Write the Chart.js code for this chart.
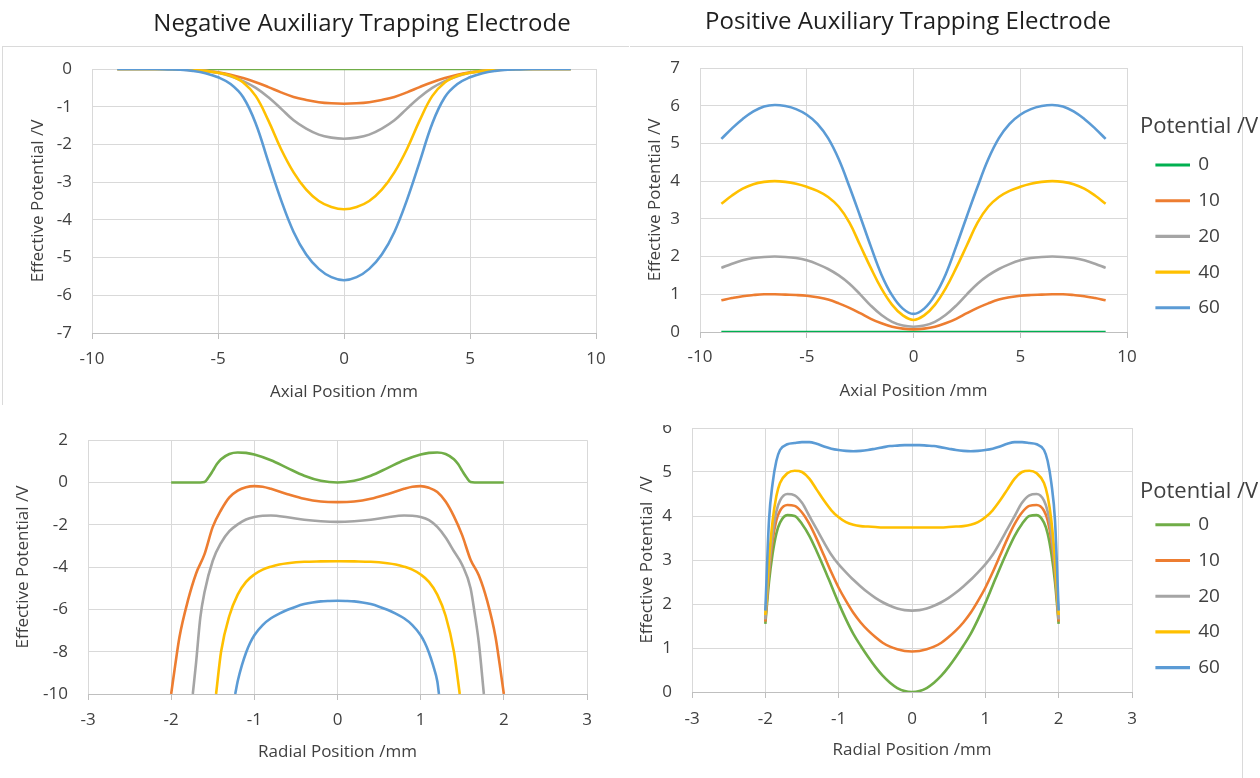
<!DOCTYPE html>
<html>
<head>
<meta charset="utf-8">
<script src="https://cdn.jsdelivr.net/npm/chart.js@4.4.1/dist/chart.umd.min.js"></script>
<style>
  body { margin: 0; background: #fff; }
  #page { position: relative; width: 1260px; height: 778px; overflow: hidden; background: #fff; }
  .box { position: absolute; }
  .frame { position: absolute; border: 0 solid #dadada; box-sizing: border-box; }
</style>
</head>
<body>
<div id="page">
  <div class="frame" style="left:2px;top:46px;width:627px;height:359px;border-top-width:1px;border-left-width:1px"></div>
  <div class="frame" style="left:630px;top:46px;width:613px;height:732px;border-top-width:1px;border-right-width:1px"></div>
  <div class="box" style="left:0;top:0;width:724px;height:410px"><canvas id="negAxial"></canvas></div>
  <div class="box" style="left:556px;top:0;width:704px;height:410px"><canvas id="posAxial"></canvas></div>
  <div class="box" style="left:0;top:410px;width:630px;height:368px"><canvas id="negRadial"></canvas></div>
  <div class="box" style="left:630px;top:425px;width:630px;height:353px"><canvas id="posRadial"></canvas></div>
</div>
<script>
// series labels (trap potential, V)
const seriesNames = ['0', '10', '20', '40', '60'];

// axial position, mm
const axialX = [-9, -8.5, -8, -7.5, -7, -6.5, -6, -5.5, -5, -4.5, -4, -3.5, -3, -2.5, -2, -1.5, -1, -0.5, 0,
  0.5, 1, 1.5, 2, 2.5, 3, 3.5, 4, 4.5, 5, 5.5, 6, 6.5, 7, 7.5, 8, 8.5, 9];

// negative electrode, axial
const negAx0 = [0, 0, 0, 0, 0, 0, 0, 0, 0, 0, 0, 0, 0, 0, 0, 0, 0, 0, 0,
  0, 0, 0, 0, 0, 0, 0, 0, 0, 0, 0, 0, 0, 0, 0, 0, 0, 0];
const negAx10 = [0, 0, 0, 0, 0, -0.01, -0.03, -0.05, -0.09, -0.15, -0.24, -0.35, -0.48, -0.62, -0.74, -0.82, -0.88, -0.91, -0.92,
  -0.91, -0.88, -0.82, -0.74, -0.62, -0.48, -0.35, -0.24, -0.15, -0.09, -0.05, -0.03, -0.01, 0, 0, 0, 0, 0];
const negAx20 = [0, 0, 0, 0, 0, -0.01, -0.02, -0.05, -0.1, -0.19, -0.32, -0.5, -0.75, -1.05, -1.36, -1.58, -1.74, -1.82, -1.85,
  -1.82, -1.74, -1.58, -1.36, -1.05, -0.75, -0.5, -0.32, -0.19, -0.1, -0.05, -0.02, -0.01, 0, 0, 0, 0, 0];
const negAx40 = [0, 0, 0, 0, 0, -0.01, -0.02, -0.05, -0.1, -0.18, -0.36, -0.72, -1.37, -2.12, -2.74, -3.2, -3.5, -3.66, -3.72,
  -3.66, -3.5, -3.2, -2.74, -2.12, -1.37, -0.72, -0.36, -0.18, -0.1, -0.05, -0.02, -0.01, 0, 0, 0, 0, 0];
const negAx60 = [0, 0, 0, 0, -0.01, -0.02, -0.05, -0.11, -0.22, -0.4, -0.75, -1.45, -2.47, -3.47, -4.32, -4.92, -5.3, -5.52, -5.6,
  -5.52, -5.3, -4.92, -4.32, -3.47, -2.47, -1.45, -0.75, -0.4, -0.22, -0.11, -0.05, -0.02, -0.01, 0, 0, 0, 0];

// positive electrode, axial
const posAx0 = negAx0;
const posAx10 = [0.84, 0.9, 0.95, 0.98, 1.0, 1.0, 0.99, 0.98, 0.96, 0.92, 0.86, 0.76, 0.64, 0.5, 0.35, 0.23, 0.14, 0.09, 0.07,
  0.09, 0.14, 0.23, 0.35, 0.5, 0.64, 0.76, 0.86, 0.92, 0.96, 0.98, 0.99, 1.0, 1.0, 0.98, 0.95, 0.9, 0.84];
const posAx20 = [1.7, 1.81, 1.9, 1.96, 1.99, 2.0, 1.99, 1.96, 1.9, 1.8, 1.67, 1.5, 1.28, 1.0, 0.7, 0.45, 0.27, 0.17, 0.14,
  0.17, 0.27, 0.45, 0.7, 1.0, 1.28, 1.5, 1.67, 1.8, 1.9, 1.96, 1.99, 2.0, 1.99, 1.96, 1.9, 1.81, 1.7];
const posAx40 = [3.4, 3.62, 3.8, 3.92, 3.98, 4.0, 3.98, 3.93, 3.85, 3.74, 3.58, 3.32, 2.9, 2.3, 1.7, 1.15, 0.72, 0.44, 0.32,
  0.44, 0.72, 1.15, 1.7, 2.3, 2.9, 3.32, 3.58, 3.74, 3.85, 3.93, 3.98, 4.0, 3.98, 3.92, 3.8, 3.62, 3.4];
const posAx60 = [5.12, 5.4, 5.65, 5.85, 5.98, 6.02, 5.99, 5.91, 5.76, 5.52, 5.14, 4.58, 3.85, 3.07, 2.27, 1.52, 0.97, 0.62, 0.48,
  0.62, 0.97, 1.52, 2.27, 3.07, 3.85, 4.58, 5.14, 5.52, 5.76, 5.91, 5.99, 6.02, 5.98, 5.85, 5.65, 5.4, 5.12];

// negative electrode, radial (each curve has its own x, cut at -10)
const negRad0X = [-2, -1.8, -1.65, -1.6, -1.55, -1.5, -1.45, -1.4, -1.3, -1.2, -1.1, -1, -0.8, -0.6, -0.4, -0.2, 0,
  0.2, 0.4, 0.6, 0.8, 1, 1.1, 1.2, 1.3, 1.4, 1.45, 1.5, 1.55, 1.6, 1.65, 1.8, 2];
const negRad0 = [0, 0, 0, 0.02, 0.25, 0.55, 0.87, 1.1, 1.35, 1.42, 1.4, 1.32, 1.05, 0.68, 0.32, 0.08, 0,
  0.08, 0.32, 0.68, 1.05, 1.32, 1.4, 1.42, 1.35, 1.1, 0.87, 0.55, 0.25, 0.02, 0, 0, 0];
const negRad10X = [-2, -1.95, -1.9, -1.8, -1.7, -1.6, -1.5, -1.4, -1.3, -1.2, -1.1, -1, -0.9, -0.8, -0.6, -0.4, -0.2, 0,
  0.2, 0.4, 0.6, 0.8, 0.9, 1, 1.1, 1.2, 1.3, 1.4, 1.5, 1.6, 1.7, 1.8, 1.9, 1.95, 2];
const negRad10 = [-10, -8.6, -7.3, -5.6, -4.3, -3.4, -2.1, -1.3, -0.7, -0.38, -0.22, -0.17, -0.2, -0.3, -0.55, -0.77, -0.9, -0.93,
  -0.9, -0.77, -0.55, -0.3, -0.2, -0.17, -0.25, -0.45, -0.9, -1.6, -2.5, -3.65, -4.4, -5.6, -7.3, -8.6, -10];
const negRad20X = [-1.74, -1.7, -1.65, -1.6, -1.5, -1.4, -1.3, -1.2, -1.1, -1, -0.9, -0.8, -0.6, -0.4, -0.2, 0,
  0.2, 0.4, 0.6, 0.8, 0.9, 1, 1.1, 1.2, 1.3, 1.4, 1.5, 1.6, 1.65, 1.7, 1.76];
const negRad20 = [-10, -8.5, -6.4, -5.2, -3.7, -2.85, -2.3, -1.98, -1.75, -1.63, -1.57, -1.56, -1.64, -1.76, -1.83, -1.86,
  -1.83, -1.76, -1.64, -1.56, -1.57, -1.63, -1.78, -2.1, -2.6, -3.25, -3.9, -5.0, -6.2, -7.6, -10];
const negRad40X = [-1.46, -1.4, -1.3, -1.2, -1.1, -1, -0.9, -0.8, -0.7, -0.6, -0.4, -0.2, 0,
  0.2, 0.4, 0.6, 0.7, 0.8, 0.9, 1, 1.1, 1.2, 1.3, 1.4, 1.47];
const negRad40 = [-10, -8.0, -6.3, -5.3, -4.7, -4.35, -4.12, -3.98, -3.88, -3.82, -3.75, -3.73, -3.72,
  -3.73, -3.75, -3.82, -3.88, -3.98, -4.12, -4.35, -4.7, -5.3, -6.3, -8.0, -10];
const negRad60X = [-1.23, -1.2, -1.15, -1.1, -1.05, -1, -0.9, -0.8, -0.7, -0.6, -0.5, -0.4, -0.3, -0.2, -0.1, 0,
  0.1, 0.2, 0.3, 0.4, 0.5, 0.6, 0.7, 0.8, 0.9, 1, 1.05, 1.1, 1.15, 1.2, 1.22];
const negRad60 = [-10, -9.4, -8.65, -8.05, -7.58, -7.22, -6.74, -6.42, -6.2, -6.02, -5.87, -5.75, -5.67, -5.62, -5.6, -5.59,
  -5.6, -5.62, -5.67, -5.75, -5.87, -6.02, -6.2, -6.42, -6.74, -7.22, -7.58, -8.05, -8.65, -9.4, -10];

// positive electrode, radial
const radialX = [-2, -1.95, -1.9, -1.85, -1.8, -1.7, -1.6, -1.5, -1.4, -1.3, -1.2, -1.1, -1, -0.9, -0.8, -0.7, -0.6, -0.5, -0.4, -0.3, -0.2, -0.1, 0,
  0.1, 0.2, 0.3, 0.4, 0.5, 0.6, 0.7, 0.8, 0.9, 1, 1.1, 1.2, 1.3, 1.4, 1.5, 1.6, 1.7, 1.8, 1.85, 1.9, 1.95, 2];
const posRad0 = [1.55, 2.5, 3.15, 3.6, 3.85, 4.02, 4.0, 3.82, 3.55, 3.2, 2.82, 2.42, 2.02, 1.65, 1.32, 1.05, 0.8, 0.57, 0.37, 0.21, 0.09, 0.02, 0,
  0.02, 0.09, 0.21, 0.37, 0.57, 0.8, 1.05, 1.32, 1.65, 2.02, 2.42, 2.82, 3.2, 3.55, 3.82, 4.0, 4.02, 3.85, 3.6, 3.15, 2.5, 1.55];
const posRad10 = [1.6, 2.7, 3.45, 3.9, 4.12, 4.25, 4.23, 4.08, 3.82, 3.48, 3.1, 2.72, 2.37, 2.07, 1.8, 1.58, 1.4, 1.25, 1.12, 1.03, 0.97, 0.93, 0.92,
  0.93, 0.97, 1.03, 1.12, 1.25, 1.4, 1.58, 1.8, 2.07, 2.37, 2.72, 3.1, 3.48, 3.82, 4.08, 4.23, 4.25, 4.12, 3.9, 3.45, 2.7, 1.6];
const posRad20 = [1.65, 2.8, 3.6, 4.1, 4.35, 4.5, 4.47, 4.3, 4.0, 3.7, 3.4, 3.12, 2.9, 2.72, 2.55, 2.4, 2.26, 2.14, 2.04, 1.96, 1.9, 1.86, 1.85,
  1.86, 1.9, 1.96, 2.04, 2.14, 2.26, 2.4, 2.55, 2.72, 2.9, 3.12, 3.4, 3.7, 4.0, 4.3, 4.47, 4.5, 4.35, 4.1, 3.6, 2.8, 1.65];
const posRad40 = [1.75, 3.0, 3.9, 4.45, 4.75, 4.97, 5.03, 5.0, 4.85, 4.6, 4.35, 4.13, 3.97, 3.86, 3.8, 3.77, 3.76, 3.75, 3.74, 3.74, 3.74, 3.74, 3.74,
  3.74, 3.74, 3.74, 3.74, 3.75, 3.76, 3.77, 3.8, 3.86, 3.97, 4.13, 4.35, 4.6, 4.85, 5.0, 5.03, 4.97, 4.75, 4.45, 3.9, 3.0, 1.75];
const posRad60 = [1.85, 3.9, 4.75, 5.25, 5.5, 5.63, 5.66, 5.68, 5.68, 5.64, 5.58, 5.53, 5.5, 5.48, 5.47, 5.48, 5.5, 5.53, 5.56, 5.59, 5.6, 5.61, 5.61,
  5.61, 5.6, 5.59, 5.56, 5.53, 5.5, 5.48, 5.47, 5.48, 5.5, 5.53, 5.58, 5.64, 5.68, 5.68, 5.66, 5.63, 5.5, 5.25, 4.75, 3.9, 1.85];

const blue = '#5B9BD5', orange = '#ED7D31', grey = '#A5A5A5', yellow = '#FFC000', green = '#70AD47', brightGreen = '#00B050';
const textColor = '#404040';
const gridColor = '#d9d9d9';
const axisColor = '#bfbfbf';

Chart.defaults.font.family = '"Open Sans", sans-serif';
Chart.defaults.color = textColor;

function line(label, color, xs, ys, smooth) {
  return {
    label: label,
    data: xs.map((x, i) => ({ x: x, y: ys[i] })),
    borderColor: color,
    backgroundColor: color,
    borderWidth: 2.6,
    pointRadius: 0,
    tension: 0.4,
    cubicInterpolationMode: smooth,
    fill: false
  };
}

// 60 first so it is drawn on top, legend is reversed back to 0..60
function fiveLines(xs, series, greenColor, smooth) {
  const colors = [greenColor, orange, grey, yellow, blue];
  const out = [];
  for (let i = series.length - 1; i >= 0; i--) {
    const x = Array.isArray(xs[0]) ? xs[i] : xs;
    out.push(line(seriesNames[i], colors[i], x, series[i], smooth));
  }
  return out;
}

function xAxis(min, max, step, title, height, tickPad, titlePad) {
  return {
    type: 'linear', min: min, max: max,
    ticks: { stepSize: step, padding: tickPad, maxRotation: 0, font: { size: 17 }, color: textColor },
    grid: { color: gridColor, tickColor: axisColor, tickLength: 6, drawTicks: true },
    border: { color: axisColor, width: 1 },
    title: { display: true, text: title, font: { size: 17 }, color: textColor, padding: { top: 0, bottom: titlePad } },
    afterFit: s => { s.height = height; }
  };
}

function yAxis(min, max, step, title, width, titlePad, clipTop) {
  return {
    type: 'linear', min: min, max: max,
    ticks: { stepSize: step, padding: 20, font: { size: 17 }, color: textColor },
    grid: { color: gridColor, drawTicks: false },
    border: { display: false },
    title: { display: true, text: title, font: { size: 17 }, color: textColor, padding: { top: titlePad, bottom: 0 } },
    afterFit: s => { s.width = width; if (clipTop) s.paddingTop = 0; }
  };
}

// empty axis used only as a gap on the right of the plot
function spacer(width) {
  return {
    type: 'linear', position: 'right', display: true,
    grid: { display: false }, ticks: { display: false }, border: { display: false },
    afterFit: s => { s.width = width; }
  };
}

// legend box is only as wide as its items, widen it so the title is not clipped
const wideLegend = {
  id: 'wideLegend',
  afterInit(chart, args, opts) {
    const legend = chart.legend;
    const fit = legend.fit;
    legend.fit = function () {
      fit.call(this);
      this.width = opts.width;
    };
  }
};

function legendOpts(titleTop, titleBottom) {
  return {
    display: true, position: 'right', align: 'start', fullSize: true, reverse: true,
    title: { display: true, text: 'Potential /V', position: 'start', color: textColor,
      font: { size: 22, lineHeight: 0.8 }, padding: { top: titleTop, bottom: titleBottom } },
    labels: { boxWidth: 32, boxHeight: 0.5, padding: 16.7, font: { size: 19 }, color: textColor }
  };
}

function panelTitle(text, top, bottom) {
  return { display: true, text: text, color: '#1e1e1e', font: { size: 24, weight: 'normal' }, padding: { top: top, bottom: bottom } };
}

const base = { responsive: true, maintainAspectRatio: false, animation: false, events: [] };

new Chart(document.getElementById('negAxial'), {
  type: 'line',
  data: { datasets: fiveLines(axialX, [negAx0, negAx10, negAx20, negAx40, negAx60], green, 'default') },
  options: Object.assign({}, base, {
    layout: { padding: 0 },
    scales: {
      x: xAxis(-10, 10, 5, 'Axial Position /mm', 77, 10, 8),
      y: yAxis(-7, 0, 1, 'Effective Potential /V', 92, 28, false),
      y2: spacer(128)
    },
    plugins: {
      legend: { display: false },
      tooltip: { enabled: false },
      title: panelTitle('Negative Auxiliary Trapping Electrode', 9.6, 30.6)
    }
  })
});

new Chart(document.getElementById('posAxial'), {
  type: 'line',
  data: { datasets: fiveLines(axialX, [posAx0, posAx10, posAx20, posAx40, posAx60], brightGreen, 'default') },
  plugins: [wideLegend],
  options: Object.assign({}, base, {
    layout: { padding: 0 },
    scales: {
      x: xAxis(-10, 10, 5, 'Axial Position /mm', 78, 9, 9),
      y: yAxis(0, 7, 1, 'Effective Potential /V', 144, 89, false),
      y2: spacer(13)
    },
    plugins: {
      legend: legendOpts(116, 5.2),
      wideLegend: { width: 120 },
      tooltip: { enabled: false },
      title: panelTitle('Positive Auxiliary Trapping Electrode', 7.6, 31.6)
    }
  })
});

new Chart(document.getElementById('negRadial'), {
  type: 'line',
  data: { datasets: fiveLines([negRad0X, negRad10X, negRad20X, negRad40X, negRad60X], [negRad0, negRad10, negRad20, negRad40, negRad60], green, 'monotone') },
  options: Object.assign({}, base, {
    layout: { padding: { left: 0, right: 43, top: 22, bottom: 0 } },
    scales: {
      x: xAxis(-3, 3, 1, 'Radial Position /mm', 84, 10, 16),
      y: yAxis(-10, 2, 2, 'Effective Potential /V', 88, 13, false)
    },
    plugins: {
      legend: { display: false },
      tooltip: { enabled: false }
    }
  })
});

new Chart(document.getElementById('posRadial'), {
  type: 'line',
  data: { datasets: fiveLines(radialX, [posRad0, posRad10, posRad20, posRad40, posRad60], green, 'monotone') },
  plugins: [wideLegend],
  options: Object.assign({}, base, {
    layout: { padding: { left: 0, right: 0, top: 3, bottom: 0 } },
    scales: {
      x: xAxis(-3, 3, 1, 'Radial Position /mm', 86, 11, 18),
      y: yAxis(0, 6, 1, 'Effective Potential  /V', 62, 7, true),
      y2: spacer(8)
    },
    plugins: {
      legend: legendOpts(53, 0),
      wideLegend: { width: 120 },
      tooltip: { enabled: false }
    }
  })
});
</script>
</body>
</html>
